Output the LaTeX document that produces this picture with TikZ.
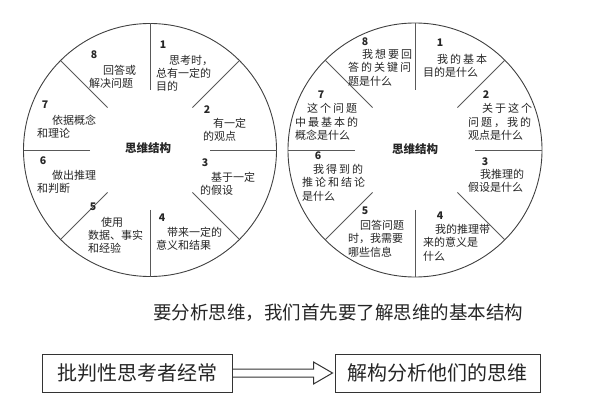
\documentclass[tikz,border=0pt]{standalone}
\usepackage{fontspec}
\setmainfont{Noto Sans CJK SC}
\newcommand{\wide}[1]{{\addfontfeature{LetterSpace=18}#1}}

\begin{document}
\begin{tikzpicture}[x=1pt, y=-1pt,
    ring/.style={draw=black!75, line width=0.9pt},
    spoke/.style={draw=black!65, line width=0.8pt},
    num/.style={inner sep=0pt, font=\fontsize{10.5}{10.5}\selectfont\bfseries, text=black!85},
    segtext/.style={anchor=north west, inner sep=0pt, align=left, font=\fontsize{11}{13}\selectfont, text=black!85},
    segwide/.style={segtext, font=\fontsize{11}{13.5}\selectfont},
    hub/.style={inner sep=0pt, font=\fontsize{11.5}{12}\selectfont\bfseries, text=black!85},
    box/.style={draw=black!80, line width=1pt, minimum height=38pt, inner sep=0pt, font=\fontsize{20}{20}\selectfont, text=black!85},
    hollow/.style={draw=black!80, line width=1pt, line join=miter}
]
    \useasboundingbox (0,0) rectangle (609,411);

    % Define centres
    \def\lx{150}
    \def\rx{415}
    \def\cy{150}

    % Left circle
    \draw[ring] (\lx,\cy) circle[radius=126.5];
    \foreach \a in {0,45,...,315} {
        \draw[spoke, shift={(\lx,\cy)}] (\a:60) -- (\a:126.5);
    }
    \node[hub] (lhub) at (148,148) {思维结构};

    \node[num] (ln1) at (163,45) {1};
    \node[segtext] (lt1) at (156,55) {\hspace*{13pt}思考时，\\总有一定的\\目的};
    \node[num] (ln2) at (207,110) {2};
    \node[segtext] (lt2) at (203,118) {\hspace*{10pt}有一定\\的观点};
    \node[num] (ln3) at (205,163) {3};
    \node[segtext] (lt3) at (200,172) {\hspace*{11pt}基于一定\\的假设};
    \node[num] (ln4) at (162,218) {4};
    \node[segtext] (lt4) at (156,227) {\hspace*{11pt}带来一定的\\意义和结果};
    \node[num] (ln5) at (93,207) {5};
    \node[segtext] (lt5) at (88,217) {\hspace*{13pt}使用\\数据、事实\\和经验};
    \node[num] (ln6) at (43,161) {6};
    \node[segtext] (lt6) at (37,170) {\hspace*{15pt}做出推理\\和判断};
    \node[num] (ln7) at (45,105) {7};
    \node[segtext] (lt7) at (37,115) {\hspace*{15pt}依据概念\\和理论};
    \node[num] (ln8) at (94,55) {8};
    \node[segtext] (lt8) at (89,65) {\hspace*{14pt}回答或\\解决问题};

    % Right circle
    \draw[ring] (\rx,\cy) circle[radius=127];
    \foreach \a in {0,45,...,315} {
        \draw[spoke, shift={(\rx,\cy)}] (\a:60) -- (\a:127);
    }
    \node[hub] (rhub) at (415,149) {思维结构};

    \node[num] (rn1) at (440,43) {1};
    \node[segwide] (rt1) at (423,54) {\hspace*{14pt}\wide{我的基本}\\目的是什么};
    \node[num] (rn2) at (486,95) {2};
    \node[segwide] (rt2) at (468,103) {\hspace*{14pt}\wide{关于这个}\\\wide{问题，我的}\\观点是什么};
    \node[num] (rn3) at (485,162) {3};
    \node[segwide] (rt3) at (468,169) {\hspace*{12pt}我推理的\\假设是什么};
    \node[num] (rn4) at (440,216) {4};
    \node[segwide] (rt4) at (423,224) {\hspace*{12pt}我的推理带\\来的意义是\\什么};
    \node[num] (rn5) at (365,211) {5};
    \node[segwide] (rt5) at (348,220) {\hspace*{12pt}回答问题\\时，我需要\\哪些信息};
    \node[num] (rn6) at (318,156) {6};
    \node[segwide] (rt6) at (302,164) {\hspace*{11pt}\wide{我得到的}\\\wide{推论和结论}\\是什么};
    \node[num] (rn7) at (321,95) {7};
    \node[segwide] (rt7) at (295,103) {\hspace*{12pt}\wide{这个问题}\\\wide{中最基本的}\\概念是什么};
    \node[num] (rn8) at (365,42) {8};
    \node[segwide] (rt8) at (348,49) {\hspace*{14pt}\wide{我想要回}\\\wide{答的关键问}\\题是什么};

    % Caption and boxes
    \node[font=\fontsize{18.5}{19}\selectfont, text=black!85] (title) at (338,313) {要分析思维，我们首先要了解思维的基本结构};
    \node[box, minimum width=190pt] (critic) at (137,373) {批判性思考者经常};
    \node[box, minimum width=205pt] (deconstruct) at (437.5,373) {解构分析他们的思维};

    % Hollow arrow
    \draw[hollow] ([yshift=4pt]critic.east) -- ([xshift=-21pt, yshift=4pt]deconstruct.west)
        -- ([xshift=-21pt, yshift=11pt]deconstruct.west) -- ([xshift=-2pt]deconstruct.west)
        -- ([xshift=-21pt, yshift=-11pt]deconstruct.west) -- ([xshift=-21pt, yshift=-4pt]deconstruct.west)
        -- ([yshift=-4pt]critic.east);

\end{tikzpicture}
\end{document}
